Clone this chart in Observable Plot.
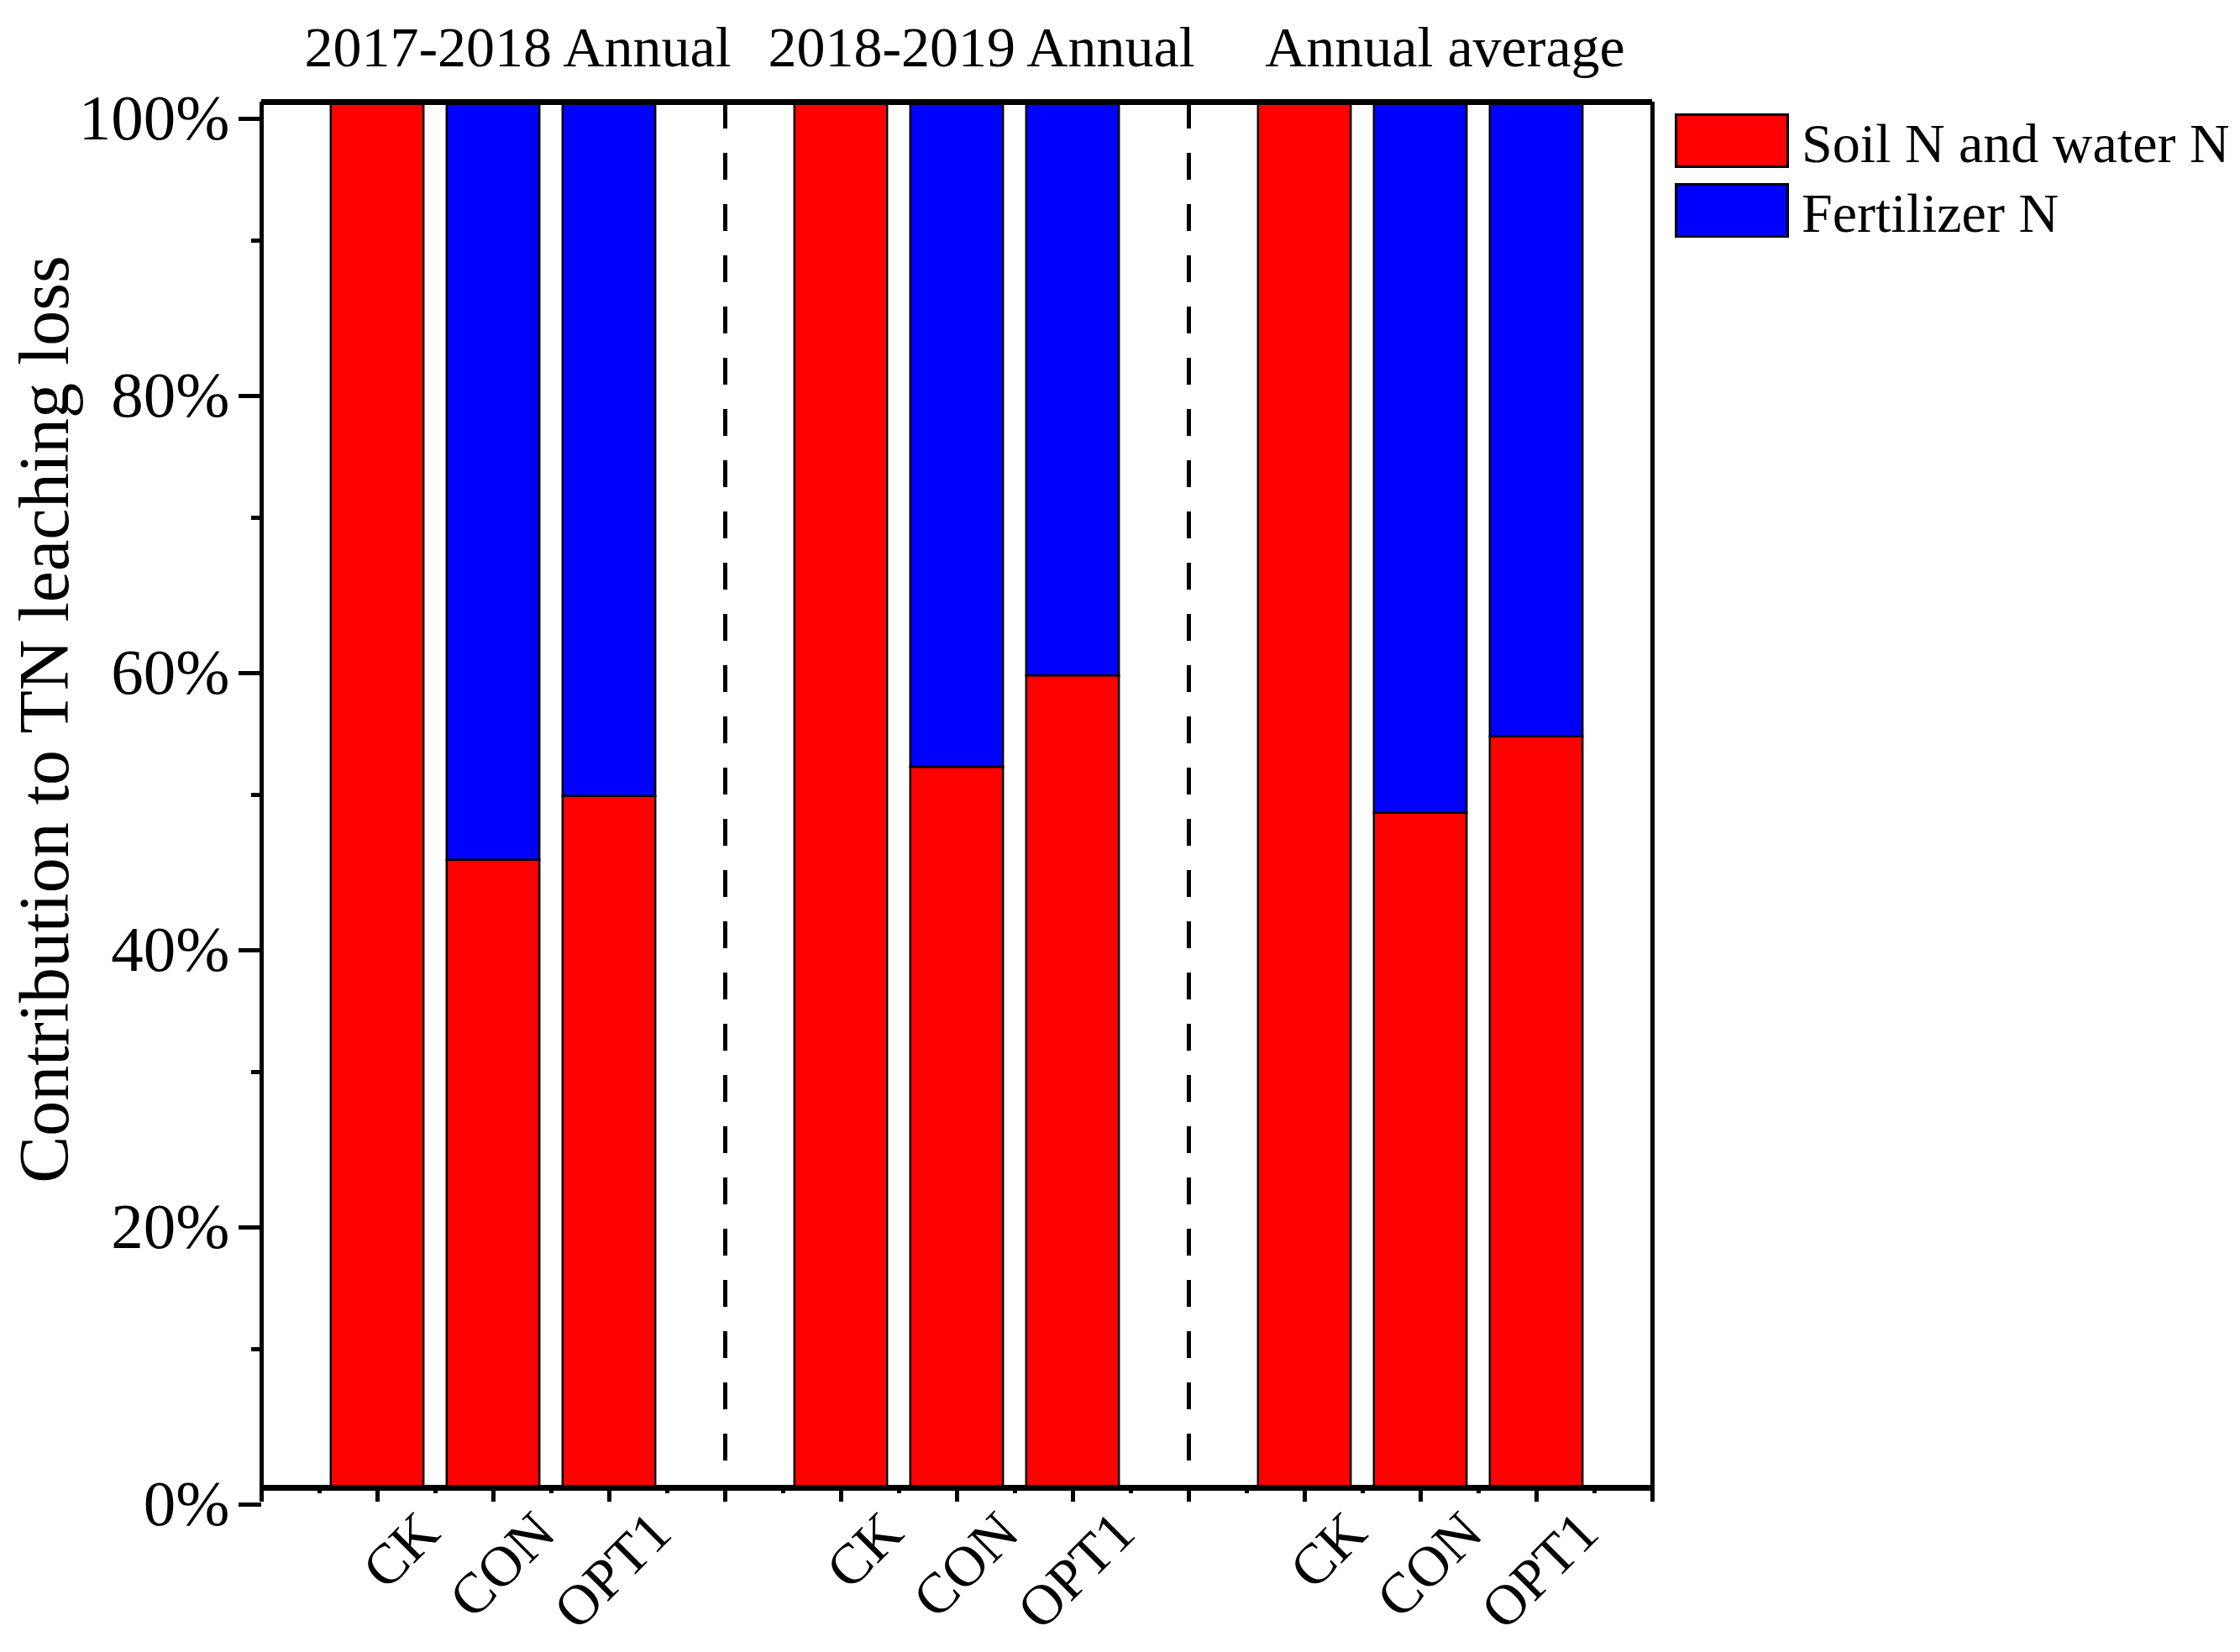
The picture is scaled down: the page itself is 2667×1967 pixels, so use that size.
<!DOCTYPE html>
<html>
<head>
<meta charset="utf-8">
<script src="https://cdn.jsdelivr.net/npm/d3@7"></script>
<script src="https://cdn.jsdelivr.net/npm/@observablehq/plot@0.6"></script>
<style>
  html, body { margin: 0; padding: 0; background: #fff; }
  #wrap { position: relative; width: 2667px; height: 1967px; }
  #legend { position: absolute; left: 1994px; top: 135px; font-family: "Liberation Serif", "Times New Roman", serif; font-size: 66px; color: #000; }
  .item { position: absolute; left: 0; white-space: nowrap; height: 65px; }
  .sw { position: absolute; left: 0; top: 0; width: 130px; height: 59px; border: 3px solid #000; }
  .lbl { position: absolute; left: 151px; top: 3px; line-height: 1; }
</style>
</head>
<body>
<div id="wrap"><div id="legend"></div></div>
<script>
// ---- data ----
const groups = ["2017-2018 Annual", "2018-2019 Annual", "Annual average"];
const treatments = ["CK", "CON", "OPT1"];
const sources = ["Soil N and water N", "Fertilizer N"];
const colors = ["#FF0000", "#0000FF"];
// Soil N and water N share (%) per treatment, by group
const soil2017 = [100, 45.3, 49.9];
const soil2018 = [100, 52.0, 58.6];
const soilAvg  = [100, 48.7, 54.2];
// Fertilizer N share (%) per treatment, by group
const fert2017 = [0, 54.7, 50.1];
const fert2018 = [0, 48.0, 41.4];
const fertAvg  = [0, 51.3, 45.8];
const yTicks = [0, 20, 40, 60, 80, 100];
const yMinorTicks = [10, 30, 50, 70, 90];

const soilByGroup = [soil2017, soil2018, soilAvg];
const fertByGroup = [fert2017, fert2018, fertAvg];

// slot layout: empty, CK, CON, OPT1, separator, CK, CON, OPT1, separator, CK, CON, OPT1, empty
const rows = [];
const segs = [];
groups.forEach((g, gi) => {
  treatments.forEach((t, ti) => {
    const pos = gi * 4 + ti + 1;
    const s = soilByGroup[gi][ti], f = fertByGroup[gi][ti];
    rows.push({group: g, treatment: t, pos});
    segs.push({group: g, treatment: t, pos, source: sources[0], y1: 0, y2: s});
    if (f > 0) segs.push({group: g, treatment: t, pos, source: sources[1], y1: s, y2: s + f});
  });
});
const groupInfo = groups.map((g) => ({group: g, pos: d3.mean(rows.filter(r => r.group === g), r => r.pos)}));
const separators = groups.slice(1).map((g, gi) => (gi + 1) * 4);
const nSlots = groups.length * 4;
const majorX = d3.range(0, nSlots + 1);
const minorX = d3.range(0.5, nSlots, 1);

const font = "Liberation Serif";
const half = 0.4;

const chart = Plot.plot({
  width: 2667,
  height: 1967,
  marginLeft: 311,
  marginRight: 700,
  marginTop: 121,
  marginBottom: 196,
  style: {fontFamily: font, fontSize: "66px", background: "white", overflow: "visible", color: "#000"},
  x: {type: "linear", domain: [0, nSlots], axis: null, label: null},
  y: {domain: [0, 100], axis: null, label: null},
  color: {domain: sources, range: colors},
  marks: [
    Plot.rect(segs, {
      x1: d => d.pos - half, x2: d => d.pos + half,
      y1: "y1", y2: "y2",
      fill: "source", stroke: "#000", strokeWidth: 2.5
    }),
    Plot.ruleX(separators, {y1: 100, y2: 0, stroke: "#000", strokeWidth: 5, strokeDasharray: "32,29"}),
    // frame
    Plot.ruleX([0, nSlots], {y1: 0, y2: 100, stroke: "#000", strokeWidth: 5}),
    Plot.ruleY([0, 100], {stroke: "#000", strokeWidth: 7}),
    // y axis
    Plot.axisY({ticks: yTicks, tickSize: 27, tickPadding: 11, tickFormat: d => d + "%", fontSize: 77, fontFamily: font, strokeWidth: 5, dy: 20, label: null}),
    Plot.axisY({ticks: yMinorTicks, tickSize: 12, text: null, strokeWidth: 5, label: null}),
    // x axis ticks
    Plot.axisX({ticks: majorX, tickSize: 17, text: null, strokeWidth: 5, anchor: "bottom", label: null}),
    Plot.axisX({ticks: minorX, tickSize: 7, text: null, strokeWidth: 5, anchor: "bottom", label: null}),
    // x tick labels
    Plot.text(rows, {
      x: "pos", y: 0, text: "treatment", rotate: -45,
      textAnchor: "end", lineAnchor: "bottom", dx: 77, dy: 57,
      fontSize: 68, fontFamily: font, fill: "#000"
    }),
    // group titles
    Plot.text(groupInfo, {
      x: "pos", y: 100, text: "group", lineAnchor: "bottom",
      dx: 29, dy: -43, fontSize: 68, fontFamily: font, fill: "#000"
    }),
    // y axis title
    Plot.text(["Contribution to TN leaching loss"], {
      frameAnchor: "left", text: d => d, rotate: -90,
      textAnchor: "middle", lineAnchor: "bottom",
      dx: -231, dy: -90, fontSize: 84, fontFamily: font, fill: "#000"
    })
  ]
});
document.getElementById("wrap").prepend(chart);

// legend
const legend = document.getElementById("legend");
sources.forEach((s, i) => {
  const item = document.createElement("div");
  item.className = "item";
  item.style.top = (i * 83) + "px";
  const sw = document.createElement("div");
  sw.className = "sw";
  sw.style.background = colors[i];
  const lbl = document.createElement("div");
  lbl.className = "lbl";
  lbl.textContent = s;
  item.appendChild(sw);
  item.appendChild(lbl);
  legend.appendChild(item);
});
</script>
</body>
</html>
